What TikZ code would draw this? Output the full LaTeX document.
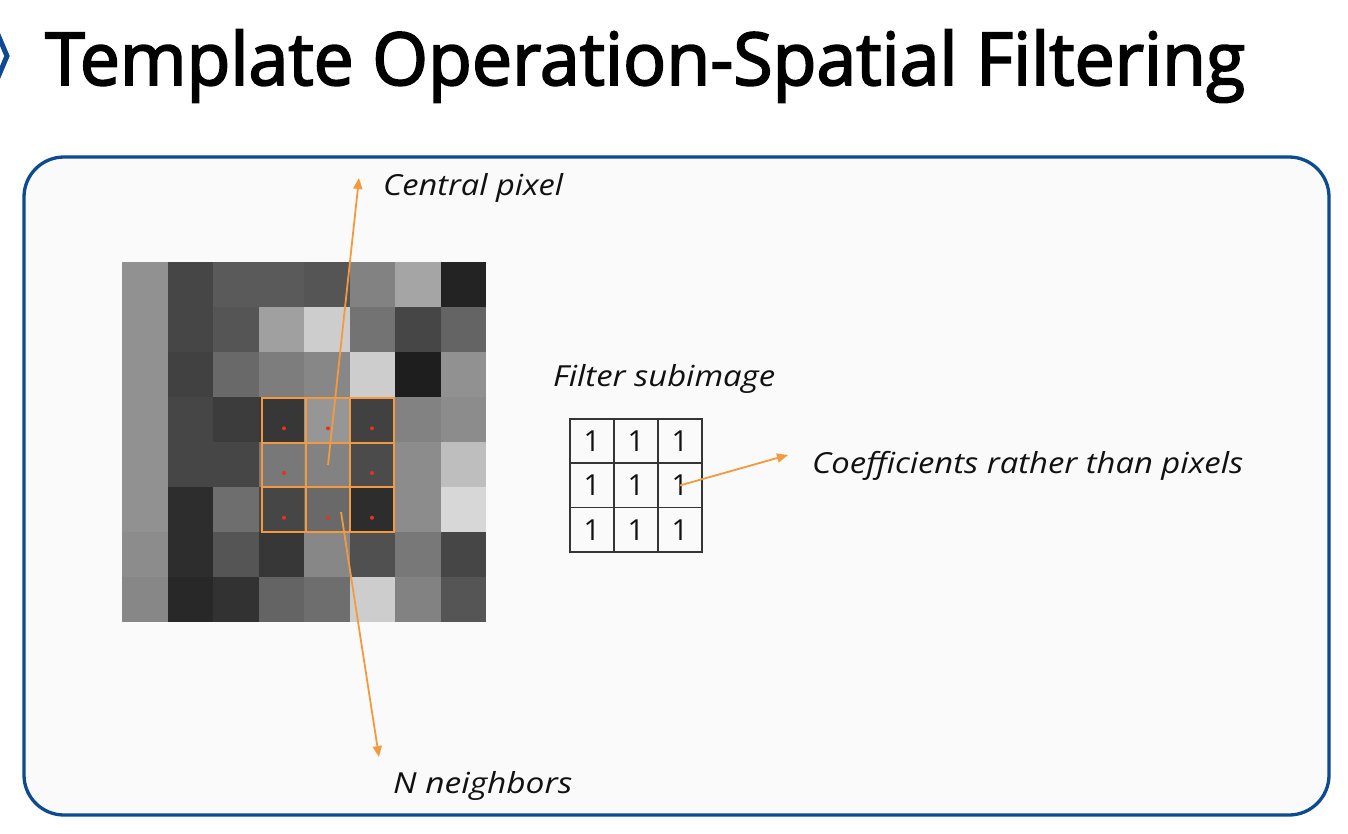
\documentclass[tikz,border=0pt]{standalone}
\usepackage{fontspec}
\setmainfont{Open Sans}
\newfontfamily\titlefont[FakeBold=2.6]{Open Sans}
\usetikzlibrary{arrows.meta}
\definecolor{boxblue}{HTML}{0D4A8F}
\definecolor{arrorange}{HTML}{F39A3E}
\definecolor{dotred}{HTML}{E8321E}
\definecolor{boxfill}{HTML}{FAFAFA}
\definecolor{inkblack}{HTML}{111111}
\newcommand{\fitw}[2]{\resizebox{#1}{\height}{#2}}
\tikzset{
  lbl/.style={anchor=base west, inner sep=0pt, text=inkblack, font=\fontsize{29}{32}\selectfont\itshape},
  fcell/.style={draw=inkblack!85, line width=1.6pt, minimum width=44pt, minimum height=44.3pt, inner sep=0pt, text=inkblack, font=\fontsize{29}{32}\selectfont},
  wcell/.style={draw=arrorange, line width=2pt, minimum width=44pt, minimum height=44.7pt, inner sep=0pt},
  oarrow/.style={draw=arrorange, line width=1.8pt, -{Triangle[length=11pt,width=9pt]}},
  rdot/.style={fill=dotred}
}
\begin{document}
\begin{tikzpicture}[x=1pt,y=-1pt]
\useasboundingbox (0,0) rectangle (1348,833);
\fill[white] (0,0) rectangle (1348,833);
% chevron
\draw[boxblue, line width=5pt] (-4,30) -- (7,56) -- (-4,82);
% title
\node[anchor=base west, inner sep=0pt, text=black] (title) at (45,85)
  {\fitw{1200pt}{\titlefont\fontsize{73}{80}\selectfont Template Operation-Spatial Filtering}};
% main box
\draw[boxblue, line width=3.3pt, fill=boxfill, rounded corners=40pt] (24,157) rectangle (1329,815);
% pixel image
\foreach \v [count=\k from 0] in {
145,70,90,90,85,130,165,35,
145,70,85,160,205,115,70,100,
145,65,105,125,135,205,30,145,
145,70,60,55,150,65,130,140,
145,70,70,120,130,75,140,190,
145,45,110,70,105,45,140,215,
140,45,85,55,135,80,120,70,
135,40,50,100,110,205,130,85}{
  \pgfmathtruncatemacro\cc{mod(\k,8)}
  \pgfmathtruncatemacro\rr{div(\k,8)}
  \fill[fill={rgb,255:red,\v;green,\v;blue,\v}] ({122+45.5*\cc},{262+45*\rr}) rectangle ++(45.6,45.1);
}
% orange window
\foreach \r in {1,2,3}{
  \foreach \c in {1,2,3}{
    \node[wcell] (w\r\c) at ({240+44*\c},{375.6+44.7*\r}) {};
  }
}
% red dots
\foreach \p in {w11,w12,w13,w21,w23,w31,w32,w33}{
  \fill[rdot] ([yshift=-8pt]\p.center) circle (2pt);
}
% filter subimage
\foreach \r in {1,2,3}{
  \foreach \c in {1,2,3}{
    \node[fcell] (f\r\c) at ({548+44*\c},{396.8+44.3*\r}) {1};
  }
}
% labels
\node[lbl] (central) at (383,195) {\fitw{180pt}{Central pixel}};
\node[lbl] (filter) at (553,386) {\fitw{222pt}{Filter subimage}};
\node[lbl] (coef) at (812,473) {\fitw{431pt}{Coefficients rather than pixels}};
\node[lbl] (neigh) at (393,793) {\fitw{179pt}{N neighbors}};
% arrow ends
\coordinate (ctip) at (359,178);
\coordinate (nstart) at (341,512);
\coordinate (ntip) at (379,757);
\coordinate (ftip) at (788,455);
% arrows
\draw[oarrow] (w22.center) -- (ctip);
\draw[oarrow] (nstart) -- (ntip);
\draw[oarrow] (f23.center) -- (ftip);
\end{tikzpicture}
\end{document}
